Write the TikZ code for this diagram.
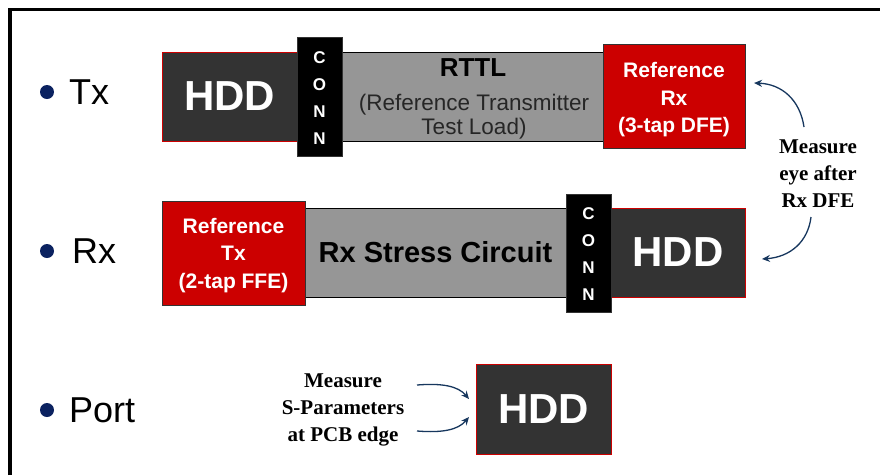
\documentclass[tikz,border=0pt]{standalone}
\usepackage{fontspec}
\setmainfont{Liberation Sans}
\newfontfamily\serifface{Liberation Serif}
\usetikzlibrary{arrows.meta}
\definecolor{hddgray}{HTML}{333333}
\definecolor{boxgray}{HTML}{969696}
\definecolor{refred}{HTML}{CC0000}
\definecolor{navy}{HTML}{17375E}
\definecolor{bulletblue}{HTML}{0B2260}
\tikzset{
  hddbox/.style={draw=refred, line width=1pt, fill=hddgray, text=white, inner sep=0pt,
    font=\bfseries\fontsize{42}{46}\selectfont},
  graybox/.style={draw=black, line width=0.8pt, fill=boxgray, inner sep=0pt},
  redbox/.style={draw=hddgray, line width=0.8pt, fill=refred, inner sep=0pt},
  redtext/.style={text=white, inner sep=0pt, align=center,
    font=\bfseries\fontsize{21}{27.5}\selectfont},
  connbox/.style={draw=hddgray, line width=0.6pt, fill=black, inner sep=0pt,
    minimum width=45, minimum height=119},
  conntext/.style={text=white, inner sep=0pt, align=center, font=\bfseries\fontsize{17}{27}\selectfont},
  rowlabel/.style={anchor=west, inner sep=0pt, font=\fontsize{36}{40}\selectfont},
  bulletdot/.style={circle, fill=bulletblue, inner sep=0pt, minimum size=14},
  note/.style={align=center, inner sep=0pt, font=\serifface\bfseries\fontsize{21}{27}\selectfont},
  measarrow/.style={draw=navy, line width=1.3pt, -{Stealth[length=8pt,width=7pt]}}
}
\begin{document}
\begin{tikzpicture}[x=1pt,y=-1pt]
\useasboundingbox (0,0) rectangle (880,475);
\fill[white] (0,0) rectangle (880,475);
% frame (top and left)
\draw[line width=3.5pt] (10,475) -- (10,9.5) -- (880,9.5);

% row labels
\node[bulletdot] (b1) at (47,92) {};
\node[rowlabel] (ltx) at (69,92) {Tx};
\node[bulletdot] (b2) at (47,251) {};
\node[rowlabel] (lrx) at (72,251) {Rx};
\node[bulletdot] (b3) at (47,410) {};
\node[rowlabel] (lport) at (69,410) {Port};

% Tx row
\node[hddbox, minimum width=135, minimum height=89] (hdd1) at (229.5,96.5) {HDD};
\node[graybox, minimum width=262, minimum height=89] (rttl) at (473,96.5) {};
\node[inner sep=0pt, font=\bfseries\fontsize{26}{30}\selectfont] (rttlt) at (473,68) {RTTL};
\node[inner sep=0pt, align=center, font=\fontsize{22.5}{24}\selectfont, text=black!85] (rttls) at (474,117) {(Reference Transmitter\\Test Load)};
\node[connbox] (conn1) at (319.5,96.5) {};
\node[conntext] (conn1t) at (319.5,98) {C\\O\\N\\N};
\node[redbox, minimum width=142, minimum height=104] (refrx) at (674,96) {};
\node[redtext] (refrxt) at (674,100) {Reference\\Rx\\(3-tap DFE)};

% Rx row
\node[graybox, minimum width=261, minimum height=89, font=\bfseries\fontsize{29}{32}\selectfont] (stress) at (435.5,252.5) {Rx Stress Circuit};
\node[redbox, minimum width=143, minimum height=104] (reftx) at (233.5,253) {};
\node[redtext] (reftxt) at (233.5,255.5) {Reference\\Tx\\(2-tap FFE)};
\node[hddbox, minimum width=134, minimum height=89] (hdd2) at (678,252.5) {HDD};
\node[connbox, minimum height=118] (conn2) at (588.5,253) {};
\node[conntext] (conn2t) at (588.5,254.5) {C\\O\\N\\N};

% Port row
\node[hddbox, minimum width=135, minimum height=90] (hdd3) at (543.5,409) {HDD};

% notes
\node[note] (meye) at (818,174) {Measure\\eye after\\Rx DFE};
\node[note] (msp) at (343,410) {Measure\\S-Parameters\\at PCB edge};

% arrow end points
\coordinate (e1s) at (804,127);
\coordinate (e1t) at (754,83);
\coordinate (e2s) at (811,217);
\coordinate (e2t) at (762,259);
\coordinate (s1s) at (417,385);
\coordinate (s1t) at (469,399);
\coordinate (s2s) at (417,431);
\coordinate (s2t) at (469,417);

\draw[measarrow] (e1s) .. controls (800,100) and (782,84) .. (e1t);
\draw[measarrow] (e2s) .. controls (808,242) and (790,257) .. (e2t);
\draw[measarrow] (s1s) .. controls (442,383) and (458,386) .. (s1t);
\draw[measarrow] (s2s) .. controls (442,433) and (458,430) .. (s2t);
\end{tikzpicture}
\end{document}
